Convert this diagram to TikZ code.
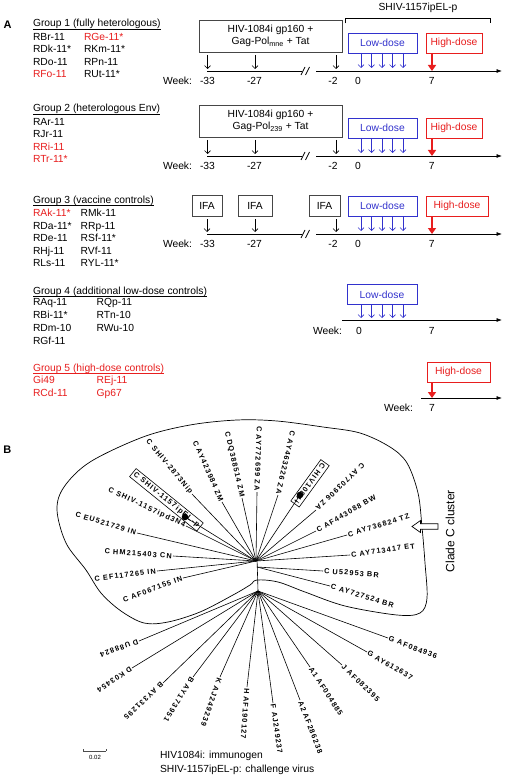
\documentclass[tikz,border=0pt]{standalone}
\usepackage{fontspec}
\setmainfont{Liberation Sans}
\newfontfamily\treefam[LetterSpace=16]{Liberation Sans}
\usetikzlibrary{arrows.meta}
\definecolor{myred}{RGB}{232,30,30}
\definecolor{myblue}{RGB}{50,50,205}
\definecolor{boxgray}{RGB}{70,70,70}
\newcommand\myleafin[5]{\coordinate (t#1) at (#3);\draw[br] (#2) -- (t#1);\node[tlab,anchor=east,rotate=#4] (l#1) at (t#1) {#5};}
\newcommand\myleafout[5]{\coordinate (t#1) at (#3);\draw[br] (#2) -- (t#1);\node[tlab,anchor=west,rotate=#4] (l#1) at (t#1) {#5};}
\begin{document}
\begin{tikzpicture}[x=1pt,y=-1pt,
 every node/.style={inner sep=0pt,outer sep=0pt},
 tx/.style={font=\fontsize{10.3}{12.5}\selectfont,anchor=base west},
 rtx/.style={tx,text=myred},
 tnum/.style={font=\fontsize{10.3}{12.5}\selectfont,anchor=base},
 ul/.style={line width=0.6pt},
 vbox/.style={draw=boxgray,line width=0.7pt,font=\fontsize{10.3}{12.5}\selectfont,align=center},
 lobox/.style={draw=myblue,line width=0.7pt,text=myblue,font=\fontsize{10.3}{12.5}\selectfont,minimum width=69pt,minimum height=20pt},
 hibox/.style={draw=myred,line width=0.7pt,text=myred,font=\fontsize{10.3}{12.5}\selectfont,minimum height=20pt},
 varr/.style={line width=0.6pt,-{Straight Barb[length=3pt,width=6pt]}},
 barr/.style={varr,draw=myblue},
 rarr/.style={draw=myred,line width=2.2pt,-{Triangle[length=6pt,width=8pt]}},
 axl/.style={line width=0.7pt},
 axa/.style={line width=0.7pt,-{Latex[length=5.5pt,width=4pt]}},
 br/.style={line width=0.6pt},
 tlab/.style={font=\treefam\bfseries\fontsize{7.3}{8}\selectfont,inner sep=1.2pt},
]
\fill[white] (0,0) rectangle (505,778);
\useasboundingbox (0,0) rectangle (505,778);

% ---------------- Part A ----------------
\node[font=\bfseries\fontsize{11}{13}\selectfont,anchor=base west] (lA) at (3.5,29) {A};

% bracket
\node[tnum] (shivlab) at (418,11) {SHIV-1157ipEL-p};
\coordinate (brL) at (345.7,23.3); \coordinate (brR) at (490,23.3);
\draw[line width=0.6pt] (brL) -- (345.7,18) -- (490,18) -- (brR);

% Group 1
\node[tx] (h1) at (33,27) {Group 1 (fully heterologous)};
\draw[ul] ([yshift=-2.5pt]h1.base west) -- ([yshift=-2.5pt]h1.base east);
\node[tx]  (g1a) at (33,40.5) {RBr-11};   \node[rtx] (g1b) at (84,40.5) {RGe-11*};
\node[tx]  (g1c) at (33,52.8) {RDk-11*};  \node[tx]  (g1d) at (84,52.8) {RKm-11*};
\node[tx]  (g1e) at (33,65.1) {RDo-11};   \node[tx]  (g1f) at (84,65.1) {RPn-11};
\node[rtx] (g1g) at (33,77.4) {RFo-11};   \node[tx]  (g1h) at (84,77.4) {RUt-11*};

\node[vbox,minimum width=143pt,minimum height=32pt] (g1box) at (270.5,36) {HIV-1084i gp160 +\\Gag-Pol\textsubscript{mne} + Tat};
\node[lobox] (g1lo) at (382.5,43) {Low-dose};
\node[hibox,minimum width=56pt] (g1hi) at (454,43) {High-dose};
\coordinate (g1L) at (207,71); \coordinate (g1B1) at (302,71); \coordinate (g1B2) at (316,71); \coordinate (g1R) at (502,71);
\draw[axl] (g1L) -- (g1B1);
\draw[axa] (g1B2) -- (g1R);
\draw[axl] (301,75) -- (305,67) (305.5,75) -- (309.5,67);
\foreach \x in {207.5,255,336} \draw[varr] (\x,0 |- g1box.south) ++(0,3) -- (\x,69);
\foreach \x in {361,371.5,382,392.5,403} \draw[barr] (\x,0 |- g1lo.south) -- (\x,68);
\draw[rarr] (432,0 |- g1hi.south) -- (432,71);
\node[tx] (w1) at (163,84.5) {Week:};
\node[tnum] (w1a) at (207.5,84.5) {-33};
\node[tnum] (w1b) at (254.5,84.5) {-27};
\node[tnum] (w1c) at (333,84.5) {-2};
\node[tnum] (w1d) at (358,84.5) {0};
\node[tnum] (w1e) at (431.7,84.5) {7};

% Group 2
\node[tx] (h2) at (33,112) {Group 2 (heterologous Env)};
\draw[ul] ([yshift=-2.5pt]h2.base west) -- ([yshift=-2.5pt]h2.base east);
\node[tx]  (g2a) at (33,125.5) {RAr-11};
\node[tx]  (g2b) at (33,137.8) {RJr-11};
\node[rtx] (g2c) at (33,150.1) {RRi-11};
\node[rtx] (g2d) at (33,162.4) {RTr-11*};

\node[vbox,minimum width=143pt,minimum height=32pt] (g2box) at (270.5,121) {HIV-1084i gp160 +\\Gag-Pol\textsubscript{239} + Tat};
\node[lobox] (g2lo) at (382.5,128) {Low-dose};
\node[hibox,minimum width=56pt] (g2hi) at (454,128) {High-dose};
\coordinate (g2L) at (207,156); \coordinate (g2B1) at (302,156); \coordinate (g2B2) at (316,156); \coordinate (g2R) at (502,156);
\draw[axl] (g2L) -- (g2B1);
\draw[axa] (g2B2) -- (g2R);
\draw[axl] (301,160) -- (305,152) (305.5,160) -- (309.5,152);
\foreach \x in {207.5,255,336} \draw[varr] (\x,0 |- g2box.south) ++(0,3) -- (\x,154);
\foreach \x in {361,371.5,382,392.5,403} \draw[barr] (\x,0 |- g2lo.south) -- (\x,153);
\draw[rarr] (432,0 |- g2hi.south) -- (432,156);
\node[tx] (w2) at (163,169.5) {Week:};
\node[tnum] (w2a) at (207.5,169.5) {-33};
\node[tnum] (w2b) at (254.5,169.5) {-27};
\node[tnum] (w2c) at (333,169.5) {-2};
\node[tnum] (w2d) at (358,169.5) {0};
\node[tnum] (w2e) at (431.7,169.5) {7};

% Group 3
\node[tx] (h3) at (33,203) {Group 3 (vaccine controls)};
\draw[ul] ([yshift=-2.5pt]h3.base west) -- ([yshift=-2.5pt]h3.base east);
\node[rtx] (g3a) at (33,216.5) {RAk-11*};  \node[tx] (g3b) at (80.7,216.5) {RMk-11};
\node[tx]  (g3c) at (33,229) {RDa-11*};    \node[tx] (g3d) at (80.7,229) {RRp-11};
\node[tx]  (g3e) at (33,241.5) {RDe-11};   \node[tx] (g3f) at (80.7,241.5) {RSf-11*};
\node[tx]  (g3g) at (33,254) {RHj-11};     \node[tx] (g3h) at (80.7,254) {RVf-11};
\node[tx]  (g3i) at (33,266.5) {RLs-11};   \node[tx] (g3j) at (80.7,266.5) {RYL-11*};

\node[vbox,minimum width=30pt,minimum height=21pt] (ifa1) at (207,205.5) {IFA};
\node[vbox,minimum width=34pt,minimum height=21pt] (ifa2) at (255,205.5) {IFA};
\node[vbox,minimum width=31pt,minimum height=21pt] (ifa3) at (324.5,205.5) {IFA};
\node[lobox] (g3lo) at (382.5,206) {Low-dose};
\node[hibox,minimum width=62pt] (g3hi) at (457,206) {High-dose};
\coordinate (g3L) at (207,234); \coordinate (g3B1) at (302,234); \coordinate (g3B2) at (316,234); \coordinate (g3R) at (502,234);
\draw[axl] (g3L) -- (g3B1);
\draw[axa] (g3B2) -- (g3R);
\draw[axl] (301,238) -- (305,230) (305.5,238) -- (309.5,230);
\draw[varr] (ifa1.south) ++(0,3) -- (207,232);
\draw[varr] (ifa2.south) ++(0,3) -- (255,232);
\draw[varr] (336,0 |- ifa3.south) ++(0,3) -- (336,232);
\foreach \x in {361,371.5,382,392.5,403} \draw[barr] (\x,0 |- g3lo.south) -- (\x,231);
\draw[rarr] (432,0 |- g3hi.south) -- (432,234);
\node[tx] (w3) at (163,247.5) {Week:};
\node[tnum] (w3a) at (207.5,247.5) {-33};
\node[tnum] (w3b) at (254.5,247.5) {-27};
\node[tnum] (w3c) at (333,247.5) {-2};
\node[tnum] (w3d) at (358,247.5) {0};
\node[tnum] (w3e) at (431.7,247.5) {7};

% Group 4
\node[tx] (h4) at (33,294) {Group 4 (additional low-dose controls)};
\draw[ul] ([yshift=-2.5pt]h4.base west) -- ([yshift=-2.5pt]h4.base east);
\node[tx] (g4a) at (33,305.5) {RAq-11};  \node[tx] (g4b) at (96.7,305.5) {RQp-11};
\node[tx] (g4c) at (33,318.5) {RBi-11*}; \node[tx] (g4d) at (96.7,318.5) {RTn-10};
\node[tx] (g4e) at (33,331.5) {RDm-10};  \node[tx] (g4f) at (96.7,331.5) {RWu-10};
\node[tx] (g4g) at (33,344) {RGf-11};

\node[lobox,minimum width=70pt] (g4lo) at (382,294.5) {Low-dose};
\coordinate (g4L) at (342,320); \coordinate (g4R) at (502,320);
\draw[axa] (g4L) -- (g4R);
\foreach \x in {361,371.5,382,392.5,403} \draw[barr] (\x,0 |- g4lo.south) -- (\x,318);
\node[tx] (w4) at (313,334) {Week:};
\node[tnum] (w4d) at (359,334) {0};
\node[tnum] (w4e) at (431.7,334) {7};

% Group 5
\node[rtx] (h5) at (33,371) {Group 5 (high-dose controls)};
\draw[ul,draw=myred] ([yshift=-2.5pt]h5.base west) -- ([yshift=-2.5pt]h5.base east);
\node[rtx] (g5a) at (33,383) {Gi49};    \node[rtx] (g5b) at (96.7,383) {REj-11};
\node[rtx] (g5c) at (33,396) {RCd-11};  \node[rtx] (g5d) at (96.7,396) {Gp67};

\node[hibox,minimum width=63pt] (g5hi) at (458.5,372) {High-dose};
\coordinate (g5L) at (421,398); \coordinate (g5R) at (502,398);
\draw[axa] (g5L) -- (g5R);
\draw[rarr] (432,0 |- g5hi.south) -- (432,398);
\node[tx] (w5) at (384,411.5) {Week:};
\node[tnum] (w5e) at (432,411.5) {7};

% ---------------- Part B ----------------
\node[font=\bfseries\fontsize{11}{13}\selectfont,anchor=base west] (lB) at (3.3,453) {B};

% cluster outline
\draw[line width=0.7pt] plot[smooth cycle,tension=0.55] coordinates {
 (257,580) (278,582) (305,592) (345,606) (397,615) (420,613) (427,598) (425,563)
 (422,527) (418,493) (407,463) (390,447) (360,433) (323,427) (277,421) (237,420)
 (190,425) (143,437) (90,462) (64,487) (57,510) (66,543) (86,570) (101,593)
 (121,611) (144,623) (168,622) (200,612) (233,595) (250,585)};

\coordinate (N1) at (256,561);
\coordinate (N1b) at (257,567);
\coordinate (N0) at (257,557);
\coordinate (N2) at (258,591);
\draw[br] (N0) -- (N2);

% clade C, left and top (reading inward)
\myleafin{ipd}{N1}{186,526}{-25}{C SHIV-1157ipd3N4}
\myleafin{eu}{N1}{137,533}{-17}{C EU521729 IN}
\myleafin{hm}{N1}{173,556}{-4}{C HM215403 CN}
\myleafin{ef}{N1}{157,571}{7}{C EF117265 IN}
\myleafin{afa}{N1}{183,578}{20}{C AF067155 IN}
\myleafin{sh}{N1}{192,494}{-50}{C SHIV-2873Nip}
\myleafin{ayb}{N1}{222,502}{-66}{C AY423984 ZM}
\myleafin{dq}{N1}{242,498}{-77}{C DQ388514 ZM}
\myleafin{ayc}{N1}{257,492}{-92}{C AY772699 ZA}
\myleafin{ayd}{N1}{278,495}{-103}{C AY463226 ZA}
\myleafin{aye}{N1}{316,510}{-136}{C AY703906 ZA}

% boxed: SHIV-1157ipEL-p
\coordinate (dA) at (185,517);
\draw[br] (N1) -- (dA);
\node[tlab,draw,line width=0.6pt,rotate=-39,anchor=east,inner xsep=2pt,inner ysep=1.8pt] (bxA) at (200,527) {C SHIV-1157ipEL-p\hspace{20pt}};
\fill (dA) circle (3.3pt);
% boxed: HIV1084i
\coordinate (dB) at (300,495);
\draw[br] (N1) -- (dB);
\node[tlab,draw,line width=0.6pt,rotate=-126,anchor=east,inner xsep=2pt,inner ysep=2.5pt] (bxB) at (295,504) {C HIV1084i\hspace{15pt}};
\fill (dB) circle (3.3pt);

% clade C right (reading outward)
\myleafout{afb}{N1}{316,531}{30}{C AF443088 BW}
\myleafout{ayf}{N1}{347,535}{17}{C AY736824 TZ}
\myleafout{ayg}{N1}{350,555}{8}{C AY713417 ET}
\myleafout{u}{N1b}{323,571}{-4}{C U52953 BR}
\myleafout{ayh}{N1b}{330,586}{-17}{C AY727524 BR}

% other subtypes
\myleafout{du}{N2}{139,641}{200}{D U88824}
\myleafout{dk}{N2}{132,668}{214}{D K03454}
\myleafout{ba}{N2}{163,683}{223}{B AY331295}
\myleafout{bb}{N2}{193,677}{238}{B AY173951}
\myleafout{ka}{N2}{220,677}{251}{K AJ249239}
\myleafout{ha}{N2}{247,687}{266}{H AF190127}
\myleafout{fa}{N2}{273,703}{-82}{F AJ249237}
\myleafout{aa}{N2}{300,700}{-69}{A2 AF286238}
\myleafout{ab}{N2}{310,667}{-57}{A1 AF004885}
\myleafout{ja}{N2}{342,665}{-44}{J AF082395}
\myleafout{ga}{N2}{367,652}{-30}{G AY612637}
\myleafout{gb}{N2}{388,638}{-21}{G AF084936}

% clade C label and hollow arrow
\node[rotate=90,font=\fontsize{12}{14}\selectfont] (clade) at (450,531) {Clade C cluster};
\draw[line width=0.7pt,fill=white] (412,526.5) -- (420.5,520.5) -- (420.5,523.8) -- (438,523.8)
  -- (438,529.2) -- (420.5,529.2) -- (420.5,532.5) -- cycle;

% scale bar
\coordinate (sb1) at (83,751); \coordinate (sb2) at (106,751);
\draw[line width=0.4pt,draw=black!70] (sb1) -- (sb2) (sb1) -- ++(0,-2) (sb2) -- ++(0,-2);
\node[font=\fontsize{6}{7}\selectfont] (sbl) at (95,757.5) {0.02};

% legend
\node[tx] (leg1) at (160,758) {HIV1084i: immunogen};
\node[tx] (leg2) at (160,772) {SHIV-1157ipEL-p: challenge virus};
\end{tikzpicture}
\end{document}
